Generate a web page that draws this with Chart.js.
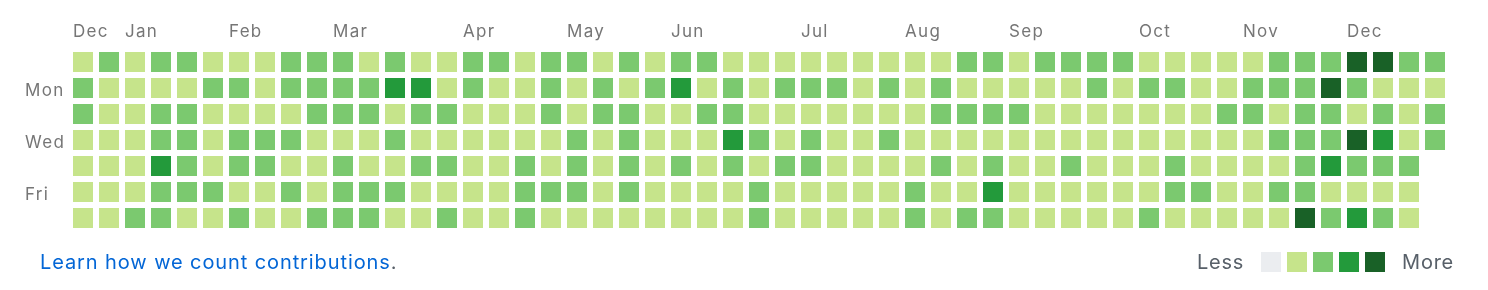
<!DOCTYPE html>
<html>
<head>
<meta charset="utf-8">
<script src="https://cdn.jsdelivr.net/npm/chart.js@4"></script>
<style>
  body { margin: 0; background: #fff; font-family: Inter, "Liberation Sans", sans-serif; }
  #wrap { position: relative; width: 1488px; height: 290px; }
  #learn { position: absolute; left: 40px; top: 250px; font-size: 20px; letter-spacing: 0.9px; color: #0366d6; }
  #learn span { color: #586069; }
  #legend { position: absolute; left: 1197px; top: 250px; font-size: 20px; letter-spacing: 0.75px; color: #586069; display: flex; align-items: center; }
  #legend i { display: inline-block; width: 20px; height: 20px; margin-right: 6px; }
</style>
</head>
<body>
<div id="wrap">
  <canvas id="calendarChart" width="1488" height="290"></canvas>
  <div id="learn">Learn how we count contributions<span>.</span></div>
  <div id="legend"><span style="margin-right:17px">Less</span><i style="background:#ebedf0"></i><i style="background:#c6e48b"></i><i style="background:#7bc96f"></i><i style="background:#239a3b"></i><i style="background:#196127;margin-right:17px"></i><span>More</span></div>
</div>
<script>
// contribution level per week (column), one array per weekday
var sun = [1,2,1,2,2,1,1,1,2,2,2, 1,2,1,1,2,2,1,2,2,1, 2,1,2,2,1,1,1,1,1,1, 1,1,1,2,2,1,2,2,2,2,1, 1,1,1,1,2,2,2,4,4,2,2];
var mon = [2,1,1,1,1,2,2,1,2,2,2, 2,3,3,1,2,1,1,2,1,2, 1,2,3,1,2,1,2,2,2,1, 2,1,2,1,1,1,1,1,2,1,2, 2,1,1,2,2,2,4,2,1,1,1];
var tue = [2,1,1,2,2,1,1,1,1,2,2, 2,1,2,2,1,1,1,2,1,2, 2,1,1,2,2,1,1,1,1,1, 1,1,2,2,2,2,1,1,1,1,1, 1,1,2,2,1,2,2,1,2,1,2];
var wed = [1,1,1,2,2,1,2,2,2,1,1, 1,2,1,1,1,1,1,1,2,1, 2,1,1,1,3,2,1,2,1,1, 2,1,1,1,1,1,1,1,1,1,1, 1,1,1,1,2,2,2,4,3,1,2];
var thu = [1,1,1,3,2,1,2,2,1,1,2, 1,1,2,2,1,1,2,1,2,1, 2,1,2,1,2,1,2,2,1,1, 1,1,2,1,2,1,1,2,1,1,1, 2,1,1,1,1,2,3,2,2,2];
var fri = [1,1,1,2,2,2,1,1,2,1,2, 2,2,1,1,1,1,2,2,2,1, 2,1,1,1,1,2,1,1,1,1, 1,2,1,1,3,1,1,1,1,1,1, 2,2,1,1,2,2,1,1,1,1];
var sat = [1,1,2,2,1,1,2,1,1,2,2, 2,1,1,2,1,1,2,1,1,1, 1,1,1,1,1,2,1,1,1,1, 1,2,1,2,2,1,1,1,1,1,2, 1,1,1,1,1,4,2,3,2,1];

var months = ["Dec", "Jan", "Feb", "Mar", "Apr", "May", "Jun", "Jul", "Aug", "Sep", "Oct", "Nov", "Dec"];
var monthWeeks = [0, 2, 6, 10, 15, 19, 23, 28, 32, 36, 41, 45, 49];
var dayLabels = ["", "Mon", "", "Wed", "", "Fri", ""];

var levelColors = ["#ebedf0", "#c6e48b", "#7bc96f", "#239a3b", "#196127"];

var days = [sun, mon, tue, wed, thu, fri, sat];
var points = [];
var colors = [];
days.forEach(function (row, d) {
    row.forEach(function (lvl, w) {
        points.push({ x: w, y: d });
        colors.push(levelColors[lvl]);
    });
});

var labelsPlugin = {
    id: "calendarLabels",
    afterDraw: function (chart) {
        var ctx = chart.ctx;
        var xs = chart.scales.x, ys = chart.scales.y;
        ctx.save();
        ctx.fillStyle = "#767676";
        ctx.font = "17px Inter, 'Liberation Sans', sans-serif";
        ctx.letterSpacing = "1.3px";
        ctx.textBaseline = "alphabetic";
        ctx.textAlign = "left";
        months.forEach(function (m, i) {
            ctx.fillText(m, xs.getPixelForValue(monthWeeks[i]) - 10, 37);
        });
        dayLabels.forEach(function (t, d) {
            if (t) ctx.fillText(t, 25, ys.getPixelForValue(d) + 7.5);
        });
        ctx.restore();
    }
};

var calendarCanvas = document.getElementById("calendarChart");

var calendarChart = new Chart(calendarCanvas, {
    type: "scatter",
    data: {
        datasets: [{
            data: points,
            backgroundColor: colors,
            borderWidth: 0,
            pointStyle: "rect",
            radius: 20 / Math.SQRT2,
            hoverRadius: 20 / Math.SQRT2
        }]
    },
    options: {
        responsive: false,
        animation: false,
        devicePixelRatio: 1,
        layout: { padding: { left: 70, right: 40, top: 49, bottom: 59 } },
        scales: {
            x: { display: false, min: -0.5, max: 52.5 },
            y: { display: false, min: -0.5, max: 6.5, reverse: true }
        },
        plugins: {
            legend: { display: false },
            tooltip: { enabled: false }
        }
    },
    plugins: [labelsPlugin]
});
</script>
</body>
</html>
